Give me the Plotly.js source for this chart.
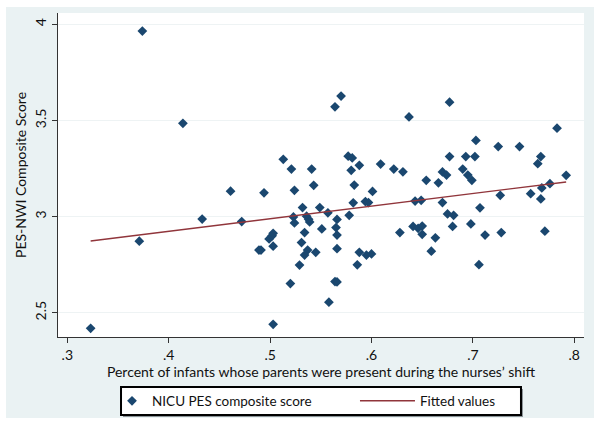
<!DOCTYPE html>
<html>
<head>
<meta charset="utf-8">
<script src="https://cdn.plot.ly/plotly-3.0.1.min.js"></script>
<style>
  html, body { margin: 0; padding: 0; background: #ffffff; width: 604px; height: 426px; overflow: hidden; }
  #chart { position: absolute; left: 6px; top: 7px; width: 588px; height: 411px; }
</style>
</head>
<body>
<div id="chart"></div>
<script>
// Percent of infants whose parents were present during the nurses' shift
const pctParentsPresent = [
  0.323, 0.374, 0.371, 0.414, 0.433, 0.461, 0.472, 0.494, 0.489, 0.491,
  0.499, 0.502, 0.503, 0.503, 0.503, 0.513, 0.521, 0.524, 0.520, 0.523,
  0.524, 0.532, 0.534, 0.531, 0.529, 0.536, 0.538, 0.539, 0.541, 0.543,
  0.537, 0.534, 0.545, 0.549, 0.551, 0.557, 0.558, 0.564, 0.570, 0.566,
  0.565, 0.566, 0.566, 0.564, 0.566, 0.577, 0.581, 0.580, 0.583, 0.588,
  0.582, 0.578, 0.588, 0.586, 0.594, 0.597, 0.601, 0.595, 0.600, 0.609,
  0.622, 0.631, 0.637, 0.628, 0.643, 0.649, 0.641, 0.646, 0.650, 0.650,
  0.654, 0.663, 0.659, 0.666, 0.670, 0.674, 0.670, 0.675, 0.681, 0.680,
  0.677, 0.677, 0.690, 0.693, 0.695, 0.699, 0.698, 0.702, 0.703, 0.707,
  0.706, 0.712, 0.725, 0.727, 0.728, 0.746, 0.757, 0.764, 0.767, 0.767,
  0.768, 0.771, 0.776, 0.783, 0.792
];
// NICU PES composite score
const pesComposite = [
  2.419, 3.965, 2.872, 3.485, 2.987, 3.132, 2.974, 3.124, 2.826, 2.826,
  2.884, 2.900, 2.913, 2.846, 2.440, 3.298, 3.247, 3.137, 2.652, 2.998,
  2.967, 3.047, 2.917, 2.865, 2.748, 3.002, 2.986, 2.972, 3.247, 3.163,
  2.826, 2.800, 2.814, 3.047, 2.936, 3.020, 2.555, 3.571, 3.627, 2.985,
  2.943, 2.904, 2.833, 2.662, 2.660, 3.314, 3.305, 3.241, 3.164, 3.267,
  3.072, 3.007, 2.814, 2.749, 3.078, 3.073, 3.131, 2.800, 2.806, 3.273,
  3.247, 3.233, 3.518, 2.917, 3.081, 3.085, 2.949, 2.939, 2.951, 2.908,
  3.189, 2.890, 2.820, 3.176, 3.232, 3.216, 3.073, 3.014, 3.007, 2.949,
  3.595, 3.312, 3.247, 3.312, 3.216, 3.189, 2.962, 3.312, 3.396, 3.046,
  2.750, 2.904, 3.364, 3.111, 2.917, 3.364, 3.119, 3.275, 3.312, 3.092,
  3.149, 2.924, 3.171, 3.460, 3.215
];
// Fitted values (ends of the regression line)
const fitX = [0.323, 0.792];
const fitY = [2.873, 3.180];

const xTickVals = [0.3, 0.4, 0.5, 0.6, 0.7, 0.8];
const xTickText = ['.3', '.4', '.5', '.6', '.7', '.8'];
const yTickVals = [2.5, 3, 3.5, 4];
const yTickText = ['2.5', '3', '3.5', '4'];

const FONT = 'Lato, "Open Sans", sans-serif';

const traces = [
  {
    type: 'scatter', mode: 'markers', name: 'NICU PES composite score',
    x: pctParentsPresent, y: pesComposite, legend: 'legend',
    marker: { symbol: 'diamond', size: 7.5, color: '#1a476f', line: { width: 0 } },
    hoverinfo: 'x+y'
  },
  {
    type: 'scatter', mode: 'lines', name: 'Fitted values',
    x: fitX, y: fitY, legend: 'legend2',
    line: { color: '#90353b', width: 1.3 }
  }
];

const legendBase = {
  orientation: 'h', y: -0.1975, yanchor: 'middle', xanchor: 'left',
  bgcolor: 'rgba(0,0,0,0)', borderwidth: 0,
  font: { family: FONT, size: 13.5, color: '#111111' }
};

const layout = {
  width: 588, height: 411,
  margin: { l: 52, r: 10, t: 6, b: 81, autoexpand: false },
  paper_bgcolor: '#eaf2f3',
  plot_bgcolor: '#ffffff',
  font: { family: FONT, size: 13, color: '#111111' },
  showlegend: true,
  legend: Object.assign({}, legendBase, { x: 0.1027, itemwidth: 30 }),
  legend2: Object.assign({}, legendBase, { x: 0.5646, itemwidth: 55 }),
  shapes: [
    { type: 'rect', xref: 'paper', yref: 'paper',
      x0: 0.1236, x1: 0.8840, y0: -0.1605, y1: -0.2469,
      line: { width: 0 }, fillcolor: '#8c9498', layer: 'below' },
    { type: 'rect', xref: 'paper', yref: 'paper',
      x0: 0.1198, x1: 0.8802, y0: -0.1543, y1: -0.2407,
      line: { color: '#000000', width: 2 }, fillcolor: '#ffffff', layer: 'below' }
  ],
  xaxis: {
    range: [0.2908, 0.8096], autorange: false,
    tickmode: 'array', tickvals: xTickVals, ticktext: xTickText,
    ticks: 'outside', ticklen: 5, tickcolor: '#333333', tickwidth: 1,
    showline: true, linecolor: '#333333', linewidth: 1,
    showgrid: false, zeroline: false,
    tickfont: { family: FONT, size: 14, color: '#111111' },
    title: { text: 'Percent of infants whose parents were present during the nurses\u2019 shift',
             font: { family: FONT, size: 14, color: '#111111' }, standoff: 4 }
  },
  yaxis: {
    range: [2.3739, 4.0588], autorange: false,
    tickmode: 'array', tickvals: yTickVals, ticktext: yTickText,
    tickangle: -90,
    ticks: 'outside', ticklen: 5, tickcolor: '#333333', tickwidth: 1,
    showline: true, linecolor: '#333333', linewidth: 1,
    showgrid: true, gridcolor: '#eef3f4', gridwidth: 1, zeroline: false,
    tickfont: { family: FONT, size: 14, color: '#111111' },
    title: { text: 'PES-NWI Composite Score', font: { family: FONT, size: 14, color: '#111111' }, standoff: 2 }
  }
};

Plotly.newPlot('chart', traces, layout, { displayModeBar: false, staticPlot: true });
</script>
</body>
</html>
